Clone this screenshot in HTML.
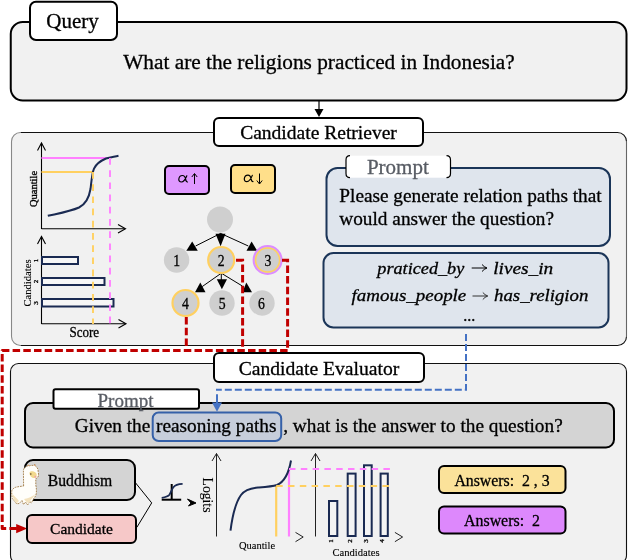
<!DOCTYPE html>
<html><head><meta charset="utf-8">
<style>
html,body{margin:0;padding:0;background:#fff;}
body{width:628px;height:560px;overflow:hidden;position:relative;}
svg{position:absolute;left:0;top:0;will-change:transform;}
text{font-family:"Liberation Serif",serif;fill:#000;stroke:#000;stroke-width:0.3px;}
</style></head><body>
<svg width="628" height="560" viewBox="0 0 628 560">
<!-- ================= QUERY ================= -->
<rect x="10.75" y="22" width="615.75" height="78.5" rx="12" fill="#f1f1f1" stroke="#000" stroke-width="2"/>
<rect x="30" y="1.75" width="87" height="38.25" rx="6" fill="#fff" stroke="#000" stroke-width="2"/>
<text x="72.5" y="27.9" font-size="21" text-anchor="middle">Query</text>
<text x="319" y="69.3" font-size="21.3" text-anchor="middle">What are the religions practiced in Indonesia?</text>

<!-- arrow query -> retriever -->
<line x1="319" y1="101" x2="319" y2="110" stroke="#000" stroke-width="1.2"/>
<path d="M314.5,109 L323.5,109 L319,117 z" fill="#000"/>

<!-- ================= RETRIEVER ================= -->
<rect x="11.5" y="132.5" width="615" height="213" rx="9" fill="#f1f1f1" stroke="none"/>
<path d="M626.5,141.5 V336.5" fill="none" stroke="#666" stroke-width="1.1"/>
<path d="M20.5,132.5 H617.5 A9,9 0 0 1 626.5,141.5 M626.5,336.5 A9,9 0 0 1 617.5,345.5 H20.5" fill="none" stroke="#111" stroke-width="1.1"/>
<path d="M20.5,132.5 A9,9 0 0 0 11.5,141.5 V336.5 A9,9 0 0 0 20.5,345.5" fill="none" stroke="#888" stroke-width="1.1"/>
<rect x="214" y="118" width="209" height="28" rx="5" fill="#fff" stroke="#000" stroke-width="2"/>
<text x="318.5" y="139" font-size="19.55" text-anchor="middle">Candidate Retriever</text>

<!-- quantile chart -->
<g fill="none" stroke="#000" stroke-width="1.1">
  <line x1="41.5" y1="143" x2="41.5" y2="229"/>
  <path d="M37.5,150.5 L41.5,143 L45.5,150.5"/>
  <line x1="41.5" y1="228.75" x2="125" y2="228.75"/>
  <path d="M118,224.5 L125.5,228.75 L118,233"/>
</g>
<line x1="41.5" y1="158" x2="110" y2="158" stroke="#ff80ff" stroke-width="2.2"/>
<line x1="41.5" y1="172" x2="93" y2="172" stroke="#ffd060" stroke-width="2.2"/>
<path d="M47.8,215.8 C58,213.5 70,211.5 79,207.5 C86,204 89,198 90.5,189 C91.5,181 92,173 94,168.6 C96,164.5 100,161 106,158.5 C110,157.3 114,156.8 118.5,155.8" fill="none" stroke="#1a2a52" stroke-width="2"/>
<text transform="translate(37,189) rotate(-90)" style="stroke-width:0.35px" font-size="10.5" text-anchor="middle">Quantile</text>

<!-- bar chart -->
<g fill="none" stroke="#000" stroke-width="1.1">
  <line x1="41.5" y1="236.5" x2="41.5" y2="324"/>
  <path d="M37.5,244 L41.5,236.5 L45.5,244"/>
  <line x1="41.5" y1="323.75" x2="125.5" y2="323.75"/>
  <path d="M118.5,319.5 L126,323.75 L118.5,328"/>
</g>
<g fill="#f6f6f6" stroke="#1a2a52" stroke-width="2">
  <rect x="42" y="257" width="36" height="7"/>
  <rect x="42" y="278" width="62.5" height="7"/>
  <rect x="42" y="299" width="71.5" height="7.5"/>
</g>
<line x1="110" y1="158" x2="110" y2="324" stroke="#ff80ff" stroke-width="1.9" stroke-dasharray="6.7,5.5"/>
<line x1="93" y1="172" x2="93" y2="324" stroke="#ffd060" stroke-width="1.9" stroke-dasharray="6.7,5.5"/>
<text transform="translate(31,283) rotate(-90)" style="stroke-width:0.1px" font-size="10.6" text-anchor="middle">Candidates</text>
<g font-size="7" text-anchor="middle" style="stroke-width:0">
<text transform="translate(37.5,260.5) rotate(-90)">1</text>
<text transform="translate(37.5,281.5) rotate(-90)">2</text>
<text transform="translate(37.5,303) rotate(-90)">3</text>
</g>
<text transform="translate(84.3,337) scale(0.86,1)" font-size="15.2" text-anchor="middle">Score</text>

<!-- alpha boxes -->
<rect x="165" y="166" width="44" height="28" rx="4" fill="#df98ff" stroke="#000" stroke-width="2"/>
<path transform="translate(178.5,175.4)" d="M8.3,0.4 C7.3,3 5.4,6.6 2.9,6.6 C1,6.6 0.2,5.3 0.3,3.8 C0.5,1.8 2,0.1 4,0.1 C6,0.1 6.7,1.9 7.1,3.8 C7.4,5.5 7.9,6.6 9,6.6" fill="none" stroke="#000" stroke-width="1.2" stroke-linecap="round"/>
<path d="M194.5,184 V174 M191.8,177 L194.5,173.5 L197.2,177" fill="none" stroke="#000" stroke-width="1"/>
<rect x="231" y="165" width="44" height="28" rx="4" fill="#ffdf8a" stroke="#000" stroke-width="2"/>
<path transform="translate(244,175)" d="M8.3,0.4 C7.3,3 5.4,6.6 2.9,6.6 C1,6.6 0.2,5.3 0.3,3.8 C0.5,1.8 2,0.1 4,0.1 C6,0.1 6.7,1.9 7.1,3.8 C7.4,5.5 7.9,6.6 9,6.6" fill="none" stroke="#000" stroke-width="1.2" stroke-linecap="round"/>
<path d="M259.5,173.5 V183.5 M256.8,180.5 L259.5,184 L262.2,180.5" fill="none" stroke="#000" stroke-width="1"/>

<!-- tree -->
<g stroke="#000" stroke-width="1" fill="none">
  <line x1="220.6" y1="233.4" x2="195.6" y2="246"/>
  <line x1="220.6" y1="233.4" x2="220.6" y2="238"/>
  <line x1="220.6" y1="233.4" x2="248.3" y2="246"/>
  <line x1="221.3" y1="273.2" x2="202.2" y2="286.6"/>
  <line x1="221.3" y1="273.2" x2="221.3" y2="280"/>
  <line x1="221.3" y1="273.2" x2="242.3" y2="286"/>
</g>
<g fill="#000">
  <path d="M186.3,250.7 L192.2,241.5 L197.8,250.7 z"/>
  <path d="M215.5,233.8 L225.5,233.8 L220.6,246.2 z"/>
  <path d="M246.5,250.7 L251.6,241.5 L257.2,250.7 z"/>
  <path d="M195,292.3 L200.3,282.5 L205.5,292.3 z"/>
  <path d="M216.8,279.2 L227,279.2 L221.9,289.3 z"/>
  <path d="M242.5,292.3 L246.3,282.5 L252,292.3 z"/>
</g>
<circle cx="220" cy="219.5" r="13" fill="#cfcfcf"/>
<circle cx="176.6" cy="260" r="12.7" fill="#cfcfcf"/>
<circle cx="221.2" cy="260" r="13" fill="#cfcfcf" stroke="#ffd060" stroke-width="2.2"/>
<circle cx="267.6" cy="260" r="14" fill="#cfcfcf" stroke="#dd8cff" stroke-width="2"/>
<circle cx="267.6" cy="260" r="12" fill="none" stroke="#ffd060" stroke-width="1.5"/>
<circle cx="185.5" cy="303" r="13" fill="#cfcfcf" stroke="#ffd060" stroke-width="2.2"/>
<circle cx="222" cy="303" r="12.7" fill="#cfcfcf"/>
<circle cx="262" cy="303" r="12.7" fill="#cfcfcf"/>
<g font-size="16" text-anchor="middle">
  <text transform="translate(176.6,265.8) scale(0.86,1)">1</text>
  <text transform="translate(221.2,265.8) scale(0.86,1)">2</text>
  <text transform="translate(268,265.8) scale(0.86,1)">3</text>
  <text transform="translate(185.5,308.8) scale(0.86,1)">4</text>
  <text transform="translate(222.2,308.8) scale(0.86,1)">5</text>
  <text transform="translate(261.5,308.8) scale(0.86,1)">6</text>
</g>

<!-- prompt (retriever) -->
<rect x="326.5" y="168" width="283.5" height="78" rx="11" fill="#dfe5ed" stroke="#1b3558" stroke-width="2"/>
<rect x="346" y="155.7" width="104.5" height="22" fill="#fff"/>
<path d="M350,155.7 Q346,155.7 346,160 V173.5 Q346,177.7 350,177.7" fill="none" stroke="#000" stroke-width="1.2"/>
<path d="M446.5,155.7 Q450.5,155.7 450.5,160 V173.5 Q450.5,177.7 446.5,177.7" fill="none" stroke="#000" stroke-width="1.2"/>
<text x="397.8" y="174" font-size="21" text-anchor="middle" style="fill:#585c64;stroke:#585c64">Prompt</text>
<text x="339.3" y="201.5" font-size="19.3">Please generate relation paths that</text>
<text x="339.3" y="224.5" font-size="19.3">would answer the question?</text>

<!-- paths box -->
<rect x="323.5" y="253" width="285" height="74.5" rx="10" fill="#dfe5ed" stroke="#1b3558" stroke-width="2"/>
<g font-size="17.5" font-style="italic" style="stroke-width:0.1px">
<text x="377.3" y="273.5" textLength="87" lengthAdjust="spacingAndGlyphs">praticed_by</text>
<text x="493.2" y="273.5" textLength="60" lengthAdjust="spacingAndGlyphs">lives_in</text>
<text x="351.6" y="301.3" textLength="114.7" lengthAdjust="spacingAndGlyphs">famous_people</text>
<text x="494" y="301.3" textLength="94.4" lengthAdjust="spacingAndGlyphs">has_religion</text>
</g>
<path d="M471.7,268 H486.5 M482,264.5 Q484,267 487,268 Q484,269 482,271.5" fill="none" stroke="#000" stroke-width="1"/>
<path d="M472.5,296 H487.3 M482.8,292.5 Q484.8,295 487.8,296 Q484.8,297 482.8,299.5" fill="none" stroke="#333" stroke-width="1"/>
<text x="463.2" y="321" font-size="16">...</text>

<!-- ================= EVALUATOR ================= -->
<rect x="10.5" y="363.5" width="616" height="200" rx="8" fill="#f1f1f1" stroke="#111" stroke-width="1.1"/>

<!-- red dashed paths -->
<g fill="none" stroke="#c00000" stroke-width="3" stroke-dasharray="7.5,3.2">
  <path d="M236,260.3 L242.6,260.3 L242.6,350.4"/>
  <path d="M282,260.3 L287.6,260.3 L287.6,350.4"/>
  <path d="M186.3,317 L186.3,350.4"/>
  <path d="M287.6,350.4 L2.2,350.4 L2.2,528.6 L20,528.6" stroke-linejoin="round"/>
</g>
<path d="M16.2,524 L27.2,528.6 L16.2,533.2 z" fill="#c00000"/>

<rect x="214" y="353" width="210" height="29" rx="5" fill="#fff" stroke="#000" stroke-width="2"/>
<text x="319" y="374.5" font-size="19.6" text-anchor="middle">Candidate Evaluator</text>

<!-- blue dashed -->
<path d="M466,334 L466,389.8 L216,389.8" fill="none" stroke="#4472c4" stroke-width="2" stroke-dasharray="7,3"/>

<!-- gray prompt box -->
<rect x="25" y="403" width="589" height="44.5" rx="8" fill="#d4d4d4" stroke="#000" stroke-width="2"/>
<rect x="53.5" y="389.3" width="145.5" height="19.5" rx="2" fill="#fff" stroke="#000" stroke-width="2"/>
<text x="125.5" y="407" font-size="19" text-anchor="middle" style="fill:#585c64;stroke:#585c64">Prompt</text>
<line x1="217" y1="394.3" x2="217" y2="405" stroke="#4472c4" stroke-width="2"/>
<path d="M212,402.4 L222,402.4 L217,411.8 z" fill="#4472c4"/>
<rect x="152.7" y="412.5" width="128.5" height="28.5" rx="6" fill="#c7cedb" stroke="#3560a8" stroke-width="2"/>
<g font-size="19.3">
<text x="74.8" y="432">Given the</text>
<text x="156" y="432">reasoning paths</text>
<text x="283.2" y="432">, what is the answer to the question?</text>
</g>

<!-- buddhism / candidate -->
<rect x="25" y="460" width="110" height="40" rx="8" fill="#d4d4d4" stroke="#000" stroke-width="2"/>
<text x="80" y="486" font-size="15.7" text-anchor="middle">Buddhism</text>
<rect x="27" y="515" width="109" height="28" rx="5" fill="#f6c8c8" stroke="#000" stroke-width="2"/>
<text x="81.5" y="533.8" font-size="15.5" text-anchor="middle">Candidate</text>

<!-- alpaca -->
<g>
  <path d="M23.6,486 L23.4,470 C23.8,468 25.5,466.5 27.5,466.2 L28.3,464.8 L29.6,465.8 C31,465.3 32.6,465.3 33.8,465.4 L35,464.2 L35.6,466.2 C37.5,467.5 38.3,469.5 38.2,472 C38.6,473.5 38.7,475 38.4,476 C37.8,477.8 36.5,478.4 35.8,478.6 L35.8,485 C36.5,488 36.5,491 36.3,493.4 C35.8,496 34.8,497.5 33.7,498.5 L31.5,502.8 L29.5,501.5 L27.7,505 L25.5,502 L23.5,504.5 L22,500.5 L19.2,503.5 L16.6,503.8 L14.5,501 L12.3,498.5 C11.6,495 11.6,492 11.9,490.4 C13,488.8 14,487.8 15.3,487.4 C18,486.6 21,486.3 23.6,486 z" fill="#fffefa" stroke="#a07a45" stroke-width="0.9" stroke-dasharray="1.8,0.9"/>
  <path d="M12.5,494 C13,499 15,502.5 17,503 L19,501 C17,498 14,496 12.5,494 z" fill="#f3e2bd"/>
  <path d="M24,499 C26,502 28,503.5 29,503 C30,500.5 33,498 35.5,494 C33,496 29,498.5 24,499 z" fill="#f3e2bd"/>
  <path d="M29.5,472.5 C30.5,470.8 34,471 36.2,473.2 C37.4,475.5 36.2,478.2 33.8,478.1 C31.5,477.8 29.2,475.5 29.5,472.5 z" fill="#f2d98e"/>
  <circle cx="30.8" cy="474" r="0.8" fill="#5a4020"/>
  <circle cx="35.4" cy="476.8" r="1" fill="#f2a0a8"/>
  <path d="M27.5,466.2 L28.3,464.8 L29.6,465.8 z M33.8,465.4 L35,464.2 L35.6,466.2 z" fill="#e0a070"/>
</g>

<!-- bracket -->
<path d="M134.6,481.7 L151.7,502.9 L136.8,527.4" fill="none" stroke="#000" stroke-width="1"/>

<!-- sigmoid icon -->
<line x1="161.7" y1="499.7" x2="181.2" y2="499.7" stroke="#000" stroke-width="2"/>
<line x1="171.7" y1="484" x2="171.7" y2="499.7" stroke="#000" stroke-width="2"/>
<path d="M161.7,497.9 C165,497.4 167.8,497 169.4,494.8 C171,492.3 172,489 173.4,487.2 C175,485 178,484 182.6,483.8" fill="none" stroke="#1a2a52" stroke-width="1.8"/>
<path d="M187.5,499 L196,503 L188.5,506 L191,503 z" fill="#000" stroke="#000" stroke-width="1"/>

<!-- logits chart -->
<g fill="none" stroke="#222" stroke-width="1">
  <line x1="216.5" y1="453.5" x2="216.5" y2="536.5"/>
  <path d="M212,461 L216.5,453.5 L221,461"/>
  <path d="M295.5,532.4 L303.2,537 L295.5,541.7"/>
</g>
<text transform="translate(203,495) rotate(90)" style="stroke-width:0.1px" font-size="13.7" text-anchor="middle">Logits</text>
<line x1="276.2" y1="486" x2="276.2" y2="536.5" stroke="#ffd060" stroke-width="2.2"/>
<line x1="289" y1="469" x2="289" y2="536.5" stroke="#ff80ff" stroke-width="2.2"/>
<path d="M230.5,530.6 C232.5,515 236,502 241,495 C245,490 250,488.3 258,487.6 C266,487 272,486.6 277,485 C284,482 289,472 291,460.5" fill="none" stroke="#1a2a52" stroke-width="2"/>
<text x="257" y="549" style="stroke-width:0.1px" font-size="10.5" text-anchor="middle">Quantile</text>

<!-- candidates chart -->
<g fill="none" stroke="#222" stroke-width="1">
  <line x1="315.5" y1="453.5" x2="315.5" y2="536.5"/>
  <path d="M311,461 L315.5,453.5 L320,461"/>
  <path d="M394.9,532.4 L402.6,537 L394.9,541.7"/>
</g>
<g fill="#f4f4f4" stroke="#1a2a52" stroke-width="2">
  <rect x="329" y="501" width="8.3" height="35"/>
  <rect x="347.7" y="473.6" width="7.9" height="62.4"/>
  <rect x="364" y="465.3" width="7.7" height="70.7"/>
  <rect x="380.6" y="473.6" width="7.2" height="62.4"/>
</g>
<line x1="276.2" y1="486" x2="393" y2="486" stroke="#ffd060" stroke-width="2" stroke-dasharray="6.5,5.3"/>
<line x1="289" y1="469" x2="393" y2="469" stroke="#ff80ff" stroke-width="2" stroke-dasharray="6.5,5.3"/>
<g font-size="7" text-anchor="middle" style="stroke-width:0">
  <text transform="translate(333,541) rotate(-90)">1</text>
  <text transform="translate(351.7,541) rotate(-90)">2</text>
  <text transform="translate(368,541) rotate(-90)">3</text>
  <text transform="translate(384.2,541) rotate(-90)">4</text>
</g>
<text x="356" y="555.5" style="stroke-width:0.1px" font-size="10.6" text-anchor="middle">Candidates</text>

<!-- answers -->
<rect x="439" y="466" width="126.5" height="27" rx="5" fill="#fbe29a" stroke="#000" stroke-width="2"/>
<text x="502" y="486" font-size="15.8" text-anchor="middle" xml:space="preserve">Answers:  2 , 3</text>
<rect x="439" y="506.5" width="126.5" height="27" rx="5" fill="#dd88fc" stroke="#000" stroke-width="2"/>
<text x="502" y="526" font-size="15.9" text-anchor="middle" xml:space="preserve">Answers:  2</text>

</svg>
</body></html>
